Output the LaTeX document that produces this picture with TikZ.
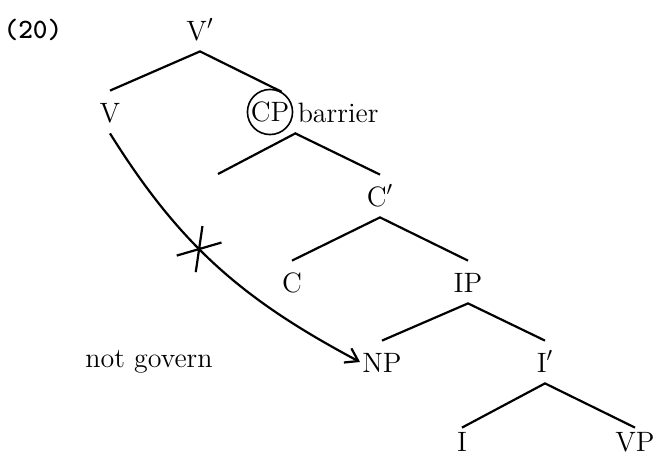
\documentclass[tikz,border=0pt]{standalone}
\usetikzlibrary{arrows.meta,positioning,shapes.misc}

\begin{document}
\begin{tikzpicture}[
  x=0.5pt, y=-0.5pt,
  font=\fontsize{14}{17}\selectfont,
  cat/.style={inner xsep=1pt, inner ysep=5.5pt, text height=10pt, text depth=0pt},
  leaf/.style={cat, inner ysep=1.5pt},
  circled/.style={circle, draw, line width=0.8pt, inner sep=0.3pt},
  branch/.style={line width=1.1pt},
  arrow/.style={-{Straight Barb[length=6pt,width=8pt]}, line width=1.1pt},
  notmark/.style={cross out, draw, line width=1.1pt, inner sep=0pt,
    minimum width=18.5pt, minimum height=11.5pt, rotate=49}
]
\useasboundingbox (0,0) rectangle (653,455);

\node (num) at (33,30) {\ttfamily\bfseries (20)};

\node[cat] (vbar) at (200,30) {V$'$};
\node[cat] (v) at (110,112) {V};
\node[circled] (cp) at (270,112) {CP};
\node[cat, right=1pt of cp] (barrier) {barrier};
\coordinate (spec) at (218,174);
\node[cat] (cbar) at (380,196) {C$'$};
\node[cat] (c) at (292,282) {C};
\node[cat] (ip) at (468,282) {IP};
\node[cat] (np) at (382,362) {NP};
\node[cat] (ibar) at (545,362) {I$'$};
\node[leaf] (i) at (462,441) {I};
\node[leaf] (vp) at (635,441) {VP};

\node (gov) at (149,362) {not govern};

% tree
\draw[branch] (v.north) -- (vbar.south) -- (cp.60);
\draw[branch] (spec) -- (barrier.south west) -- (cbar.north);
\draw[branch] (c.north) -- (cbar.south) -- (ip.north);
\draw[branch] (np.north) -- (ip.south) -- (ibar.north);
\draw[branch] (i.north) -- (ibar.south) -- (vp.north);

% government blocked by the barrier
\draw[arrow] (v.south) to[out=-58, in=152] node[notmark, pos=0.42] (block) {} (np.west);

\end{tikzpicture}
\end{document}
